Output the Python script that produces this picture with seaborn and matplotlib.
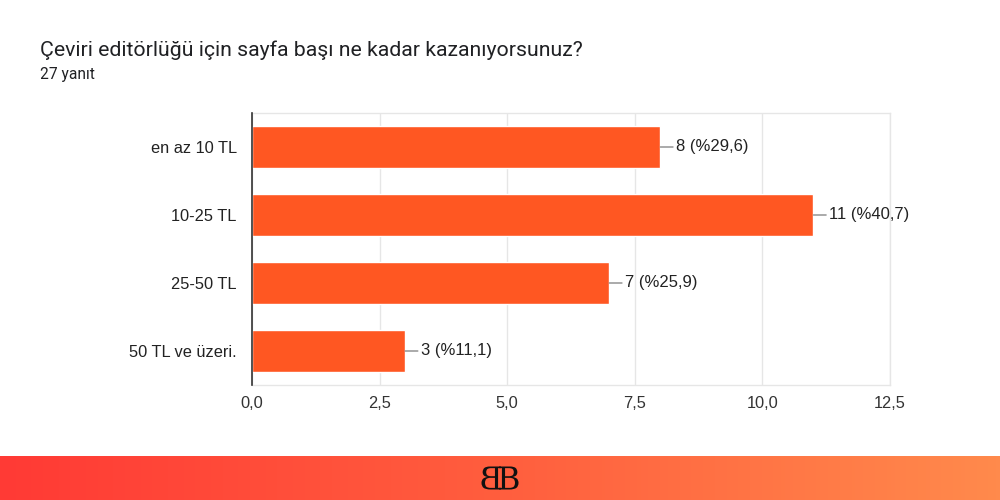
import matplotlib
matplotlib.use("Agg")
import matplotlib.pyplot as plt
import seaborn as sns
import numpy as np
import pandas as pd
from matplotlib.ticker import FuncFormatter, MultipleLocator
from matplotlib.textpath import TextPath
from matplotlib.patches import PathPatch
from matplotlib.font_manager import FontProperties
from matplotlib.transforms import Affine2D
from matplotlib.colors import LinearSegmentedColormap

title = "Çeviri editörlüğü için sayfa başı ne kadar kazanıyorsunuz?"
subtitle = "27 yanıt"
categories = ["en az 10 TL", "10-25 TL", "25-50 TL", "50 TL ve üzeri."]
counts = [8, 11, 7, 3]
pct_labels = ["%29,6", "%40,7", "%25,9", "%11,1"]

sns.set_theme(style="white")
plt.rcParams["font.family"] = ["Liberation Sans", "DejaVu Sans"]

fig = plt.figure(figsize=(10, 5), dpi=100)
ax = fig.add_axes([0.252, 0.23, 0.638, 0.544])

df = pd.DataFrame({"cat": categories, "n": counts})
sns.barplot(data=df, x="n", y="cat", orient="h", color="#FF5722",
            saturation=1, width=0.63, ax=ax, zorder=3)

ax.set_xlim(0, 12.5)
ax.set_ylim(3.5, -0.5)
ax.xaxis.set_major_locator(MultipleLocator(2.5))
ax.xaxis.set_major_formatter(FuncFormatter(lambda v, p: f"{v:.1f}".replace(".", ",")))
ax.set_xlabel("")
ax.set_ylabel("")
ax.grid(axis="x", color="#e6e6e6", linewidth=1, zorder=0)
ax.grid(axis="y", visible=False)
for s in ["top", "right", "bottom"]:
    ax.spines[s].set_color("#e6e6e6")
    ax.spines[s].set_linewidth(1)
ax.spines["left"].set_color("#333333")
ax.spines["left"].set_linewidth(1.2)
ax.spines["left"].set_zorder(4)
ax.tick_params(axis="y", length=0, pad=11, labelsize=11.8, labelcolor="#222222")
ax.tick_params(axis="x", length=0, pad=8, labelsize=11.8, labelcolor="#333333")

for i, (n, p) in enumerate(zip(counts, pct_labels)):
    ax.annotate(f"{n} ({p})", xy=(n, i), xytext=(11.5, 0), textcoords="offset points",
                ha="left", va="center", fontsize=12, color="#222222",
                arrowprops=dict(arrowstyle="-", color="#888888", lw=1,
                                shrinkA=0, shrinkB=0))

fig.text(0.04, 0.888, title, fontsize=15.3, family=["Roboto", "DejaVu Sans"],
         color="#202124", ha="left", va="baseline")
fig.text(0.04, 0.842, subtitle, fontsize=11.2, family=["Roboto", "DejaVu Sans"],
         color="#202124", ha="left", va="baseline")

# bottom gradient banner
bax = fig.add_axes([0, 0, 1, 0.088])
grad = np.linspace(0, 1, 256).reshape(1, -1)
cmap = LinearSegmentedColormap.from_list("band", ["#FF3A35", "#FF5E3E", "#FF8A4C"])
bax.imshow(grad, aspect="auto", cmap=cmap, extent=[0, 1, 0, 1])
bax.set_xlim(0, 1)
bax.set_ylim(0, 1)
bax.axis("off")

# logo: mirrored B + B
fp = FontProperties(family="DejaVu Serif")
tp = TextPath((0, 0), "B", size=1, prop=fp)
ext = tp.get_extents()
h = ext.height
px_x = 1 / 1000.0
px_y = 1 / 44.0
size_px = 23
sx = size_px / h * px_x
sy = size_px / h * px_y
right = Affine2D().translate(-ext.x0, -ext.y0).scale(sx, sy).translate(0.5 - 1 * px_x, 0.5 - size_px / 2 * px_y)
left = Affine2D().translate(-ext.x0, -ext.y0).scale(-sx, sy).translate(0.5 + 1 * px_x, 0.5 - size_px / 2 * px_y)
bax.add_patch(PathPatch(right.transform_path(tp), facecolor="#111111", edgecolor="none", transform=bax.transAxes))
bax.add_patch(PathPatch(left.transform_path(tp), facecolor="#111111", edgecolor="none", transform=bax.transAxes))

fig.savefig("out.png", dpi=100, facecolor="white")
